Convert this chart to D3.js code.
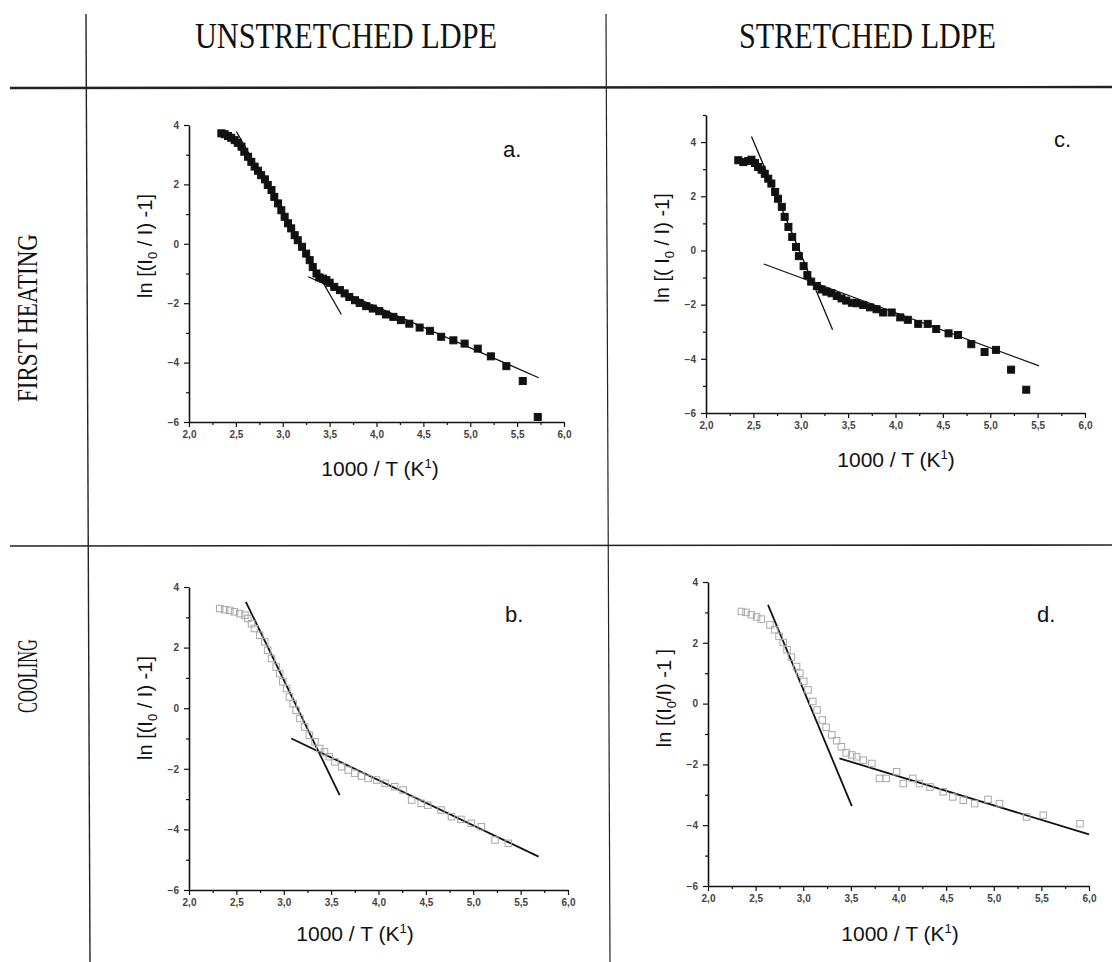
<!DOCTYPE html>
<html>
<head>
<meta charset="utf-8">
<script src="https://cdn.jsdelivr.net/npm/d3@7"></script>
<style>
  body { margin: 0; background: #fff; }
  svg text { font-family: Arial, 'Liberation Sans', sans-serif; }
  svg text.serif { font-family: 'Liberation Serif', 'Times New Roman', serif; }
</style>
</head>
<body>
<svg id="chart" width="1112" height="962"></svg>
<script>
// ---- data ----
const colHeaders = ['UNSTRETCHED LDPE', 'STRETCHED LDPE'];
const rowHeaders = ['FIRST HEATING', 'COOLING'];
const xTicks = [2.0, 2.5, 3.0, 3.5, 4.0, 4.5, 5.0, 5.5, 6.0];
const yTicks = [4, 2, 0, -2, -4, -6];

// a. unstretched, first heating
const heatUnstretched = [
  [2.345, 3.72], [2.38, 3.69], [2.416, 3.63], [2.45, 3.57], [2.487, 3.49], [2.52, 3.40], [2.56, 3.27],
  [2.59, 3.10], [2.63, 2.93], [2.665, 2.76], [2.70, 2.60], [2.736, 2.46], [2.77, 2.31], [2.81, 2.17],
  [2.84, 1.98], [2.88, 1.81], [2.91, 1.58], [2.95, 1.36], [2.985, 1.13], [3.02, 0.91], [3.056, 0.69],
  [3.09, 0.52], [3.127, 0.29], [3.16, 0.12], [3.205, -0.10], [3.25, -0.33], [3.287, -0.55], [3.32, -0.78],
  [3.36, -1.0], [3.39, -1.13], [3.43, -1.17], [3.465, -1.22], [3.50, -1.31], [3.55, -1.45], [3.61, -1.56],
  [3.66, -1.67], [3.71, -1.79], [3.77, -1.90], [3.82, -1.99], [3.89, -2.10], [3.96, -2.18], [4.03, -2.27],
  [4.10, -2.38], [4.18, -2.46], [4.26, -2.57], [4.35, -2.69], [4.46, -2.82], [4.57, -2.93], [4.69, -3.13],
  [4.82, -3.25], [4.94, -3.36], [5.08, -3.53], [5.22, -3.79], [5.385, -4.12], [5.56, -4.62], [5.72, -5.83]
];
const fitHeatUnstretched = [[[2.505, 3.78], [3.625, -2.38]], [[3.27, -1.11], [5.73, -4.51]]];

// c. stretched, first heating
const heatStretched = [
  [2.341, 3.33], [2.394, 3.26], [2.446, 3.30], [2.48, 3.35], [2.517, 3.23], [2.55, 3.08], [2.587, 2.98],
  [2.62, 2.83], [2.657, 2.65], [2.69, 2.47], [2.73, 2.16], [2.76, 1.91], [2.80, 1.61], [2.83, 1.24],
  [2.87, 0.87], [2.91, 0.50], [2.95, 0.13], [2.98, -0.21], [3.03, -0.58], [3.07, -0.91], [3.11, -1.15],
  [3.17, -1.31], [3.22, -1.44], [3.27, -1.52], [3.325, -1.58], [3.38, -1.68], [3.43, -1.77], [3.48, -1.85],
  [3.54, -1.93], [3.59, -1.95], [3.66, -2.01], [3.73, -2.10], [3.80, -2.17], [3.87, -2.29], [3.96, -2.29],
  [4.05, -2.47], [4.13, -2.56], [4.24, -2.71], [4.34, -2.71], [4.43, -2.90], [4.56, -3.06], [4.66, -3.12],
  [4.80, -3.46], [4.94, -3.75], [5.06, -3.67], [5.22, -4.40], [5.38, -5.14]
];
const fitHeatStretched = [[[2.48, 4.21], [3.336, -2.93]], [[2.61, -0.50], [5.515, -4.26]]];

// b. unstretched, cooling
const coolUnstretched = [
  [2.324, 3.29], [2.376, 3.25], [2.43, 3.23], [2.48, 3.18], [2.535, 3.12], [2.59, 3.07], [2.62, 2.96],
  [2.66, 2.79], [2.69, 2.63], [2.746, 2.41], [2.80, 2.19], [2.83, 1.91], [2.87, 1.64], [2.92, 1.36],
  [2.957, 1.14], [2.99, 0.87], [3.03, 0.65], [3.06, 0.37], [3.10, 0.15], [3.13, -0.07], [3.17, -0.34],
  [3.22, -0.62], [3.27, -0.89], [3.33, -1.11], [3.38, -1.33], [3.43, -1.44], [3.48, -1.60], [3.54, -1.77],
  [3.61, -1.93], [3.68, -2.04], [3.75, -2.15], [3.82, -2.24], [3.89, -2.32], [3.98, -2.37], [4.07, -2.48],
  [4.17, -2.59], [4.26, -2.70], [4.35, -3.03], [4.45, -3.14], [4.52, -3.20], [4.66, -3.36], [4.77, -3.58],
  [4.87, -3.67], [4.98, -3.80], [5.085, -3.91], [5.23, -4.35], [5.37, -4.46]
];
const fitCoolUnstretched = [[[2.60, 3.51], [3.59, -2.87]], [[3.08, -1.0], [5.69, -4.90]]];

// d. stretched, cooling
const coolStretched = [
  [2.35, 3.03], [2.40, 3.0], [2.455, 2.92], [2.51, 2.85], [2.56, 2.78], [2.65, 2.59], [2.70, 2.43],
  [2.746, 2.21], [2.79, 2.01], [2.83, 1.77], [2.876, 1.53], [2.93, 1.22], [2.963, 1.0], [3.005, 0.73],
  [3.05, 0.45], [3.10, 0.07], [3.145, -0.21], [3.20, -0.54], [3.24, -0.78], [3.30, -1.03], [3.35, -1.22],
  [3.40, -1.42], [3.45, -1.62], [3.51, -1.69], [3.56, -1.75], [3.63, -1.86], [3.72, -1.97], [3.80, -2.46],
  [3.87, -2.46], [3.98, -2.24], [4.05, -2.63], [4.15, -2.46], [4.22, -2.63], [4.33, -2.74], [4.47, -2.90],
  [4.57, -3.07], [4.68, -3.18], [4.80, -3.29], [4.94, -3.15], [5.06, -3.29], [5.345, -3.73], [5.52, -3.67],
  [5.905, -3.95]
];
const fitCoolStretched = [[[2.63, 3.25], [3.51, -3.37]], [[3.38, -1.80], [6.0, -4.30]]];

// ---- layout ----
const panels = [
  {tag: 'a.', data: heatUnstretched, fits: fitHeatUnstretched, filled: true, yTop: 4,
   left: 189, right: 564, top: 125, bottom: 422, tagX: 503, tagY: 157, titleX: 380, titleY: 476, labelY: 246,
   ylabel: ['ln [(I', '0', ' / I) -1]']},
  {tag: 'c.', data: heatStretched, fits: fitHeatStretched, filled: true, yTop: 5,
   left: 706, right: 1085, top: 115, bottom: 413, tagX: 1054, tagY: 147, titleX: 896, titleY: 467, labelY: 248,
   ylabel: ['ln [( I', '0', ' / I) -1]']},
  {tag: 'b.', data: coolUnstretched, fits: fitCoolUnstretched, filled: false, yTop: 4,
   left: 189, right: 568, top: 587, bottom: 890, tagX: 505, tagY: 622, titleX: 355, titleY: 941, labelY: 708,
   ylabel: ['ln [(I', '0', ' / I) -1]']},
  {tag: 'd.', data: coolStretched, fits: fitCoolStretched, filled: false, yTop: 4,
   left: 708, right: 1089, top: 582, bottom: 886, tagX: 1037, tagY: 622, titleX: 900, titleY: 941, labelY: 698,
   ylabel: ['ln [(I', '0', '/I) -1 ]']}
];

const svg = d3.select('#chart');

// table frame of the scanned page
const frame = svg.append('g').attr('stroke', '#222').attr('fill', 'none');
frame.append('line').attr('x1', 86).attr('y1', 14).attr('x2', 90).attr('y2', 962).attr('stroke-width', 1.4);
frame.append('line').attr('x1', 606).attr('y1', 14).attr('x2', 610).attr('y2', 962).attr('stroke-width', 1.2);
frame.append('line').attr('x1', 10).attr('y1', 88).attr('x2', 1112).attr('y2', 87).attr('stroke-width', 2.4);
frame.append('line').attr('x1', 10).attr('y1', 546).attr('x2', 1112).attr('y2', 545).attr('stroke-width', 1.6);

// column and row headers
const headerPos = [[195, 302], [739, 257]];
colHeaders.forEach((h, i) => {
  svg.append('text').attr('class', 'serif')
    .attr('x', headerPos[i][0]).attr('y', 48)
    .attr('textLength', headerPos[i][1]).attr('lengthAdjust', 'spacingAndGlyphs')
    .style('font-size', '35px').style('fill', '#111')
    .text(h);
});
const rowPos = [[318, 168], [676, 74]];
rowHeaders.forEach((h, i) => {
  svg.append('text').attr('class', 'serif')
    .attr('transform', `translate(37,${rowPos[i][0]}) rotate(-90)`)
    .attr('text-anchor', 'middle')
    .attr('textLength', rowPos[i][1]).attr('lengthAdjust', 'spacingAndGlyphs')
    .style('font-size', '29px').style('fill', '#111')
    .text(h);
});

const fmt = d => d3.format('.1f')(d).replace('.', ',');

function drawPanel(p) {
  const x = d3.scaleLinear().domain([2, 6]).range([p.left, p.right]);
  const y = d3.scaleLinear().domain([-6, p.yTop]).range([p.bottom, p.top]);
  const g = svg.append('g');

  const xMinor = d3.range(2.25, 6, 0.5);
  const yMinor = d3.range(-5, p.yTop + 0.5, 2);

  // minor ticks
  g.append('g').attr('transform', `translate(0,${p.bottom})`)
    .call(d3.axisBottom(x).tickValues(xMinor).tickSize(3).tickFormat(''))
    .call(a => a.select('.domain').remove());
  g.append('g').attr('transform', `translate(${p.left},0)`)
    .call(d3.axisLeft(y).tickValues(yMinor).tickSize(3).tickFormat(''))
    .call(a => a.select('.domain').remove());

  // major ticks + labels
  const xa = g.append('g').attr('transform', `translate(0,${p.bottom})`)
    .call(d3.axisBottom(x).tickValues(xTicks).tickSize(5).tickSizeOuter(0).tickPadding(4).tickFormat(fmt));
  const ya = g.append('g').attr('transform', `translate(${p.left},0)`)
    .call(d3.axisLeft(y).tickValues(yTicks).tickSize(5).tickSizeOuter(0).tickPadding(5).tickFormat(d3.format('d')));
  [xa, ya].forEach(a => {
    a.selectAll('.domain').attr('stroke', '#111').attr('stroke-width', 1.6);
    a.selectAll('text').style('font-size', '10px').style('font-weight', 'bold')
      .style('fill', '#444').attr('font-family', null);
  });
  g.selectAll('.tick line').attr('stroke', '#111').attr('stroke-width', 1.2);

  // fitted lines
  const line = d3.line().x(d => x(d[0])).y(d => y(d[1]));
  g.selectAll('path.fit').data(p.fits).join('path')
    .attr('class', 'fit')
    .attr('d', line)
    .attr('fill', 'none')
    .attr('stroke', '#111')
    .attr('stroke-width', p.filled ? 1.3 : 1.8);

  // data points
  const s = p.filled ? 7 : 6.5;
  g.selectAll('rect.pt').data(p.data).join('rect')
    .attr('class', 'pt')
    .attr('x', d => x(d[0]) - s / 2)
    .attr('y', d => y(d[1]) - s / 2)
    .attr('width', s).attr('height', s)
    .attr('fill', p.filled ? '#111' : 'none')
    .attr('stroke', p.filled ? '#111' : '#a8a8a8')
    .attr('stroke-width', 1);

  // panel tag
  g.append('text').attr('x', p.tagX).attr('y', p.tagY)
    .style('font-size', '22px').style('fill', '#111').text(p.tag);

  // x title
  const xt = g.append('text').attr('x', p.titleX).attr('y', p.titleY)
    .attr('text-anchor', 'middle').style('font-size', '21px').style('fill', '#111');
  xt.append('tspan').text('1000 / T (K');
  xt.append('tspan').attr('dy', -8).style('font-size', '13px').text('1');
  xt.append('tspan').attr('dy', 8).text(')');

  // y title
  const yt = g.append('text')
    .attr('transform', `translate(${p.left - 37},${p.labelY}) rotate(-90)`)
    .attr('text-anchor', 'middle').style('font-size', '20px').style('fill', '#111');
  yt.append('tspan').text(p.ylabel[0]);
  yt.append('tspan').attr('dy', 5).style('font-size', '13px').text(p.ylabel[1]);
  yt.append('tspan').attr('dy', -5).text(p.ylabel[2]);
}

panels.forEach(drawPanel);
</script>
</body>
</html>
